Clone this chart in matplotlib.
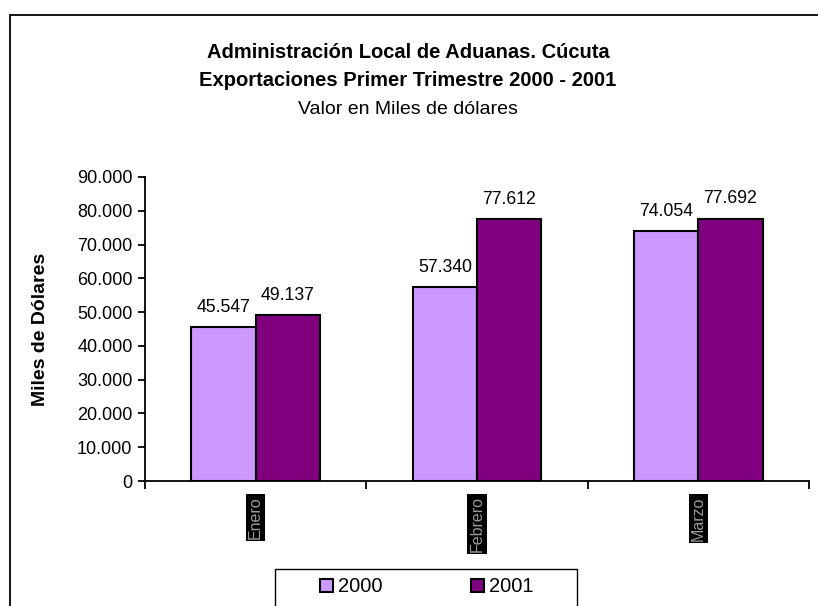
import matplotlib
matplotlib.use("Agg")
import matplotlib.pyplot as plt
from matplotlib.patches import Rectangle
import numpy as np

# values in miles de dolares
meses = ["Enero", "Febrero", "Marzo"]
anios = ["2000", "2001"]
valores_2000 = [45547, 57340, 74054]
valores_2001 = [49137, 77612, 77692]
colores = ["#CC99FF", "#800080"]
y_ticks = [0, 10000, 20000, 30000, 40000, 50000, 60000, 70000, 80000, 90000]

plt.rcParams["font.family"] = ["Liberation Sans", "DejaVu Sans"]


def miles(v):
    return f"{v:,.0f}".replace(",", ".")


fig = plt.figure(figsize=(8.18, 6.06), dpi=100)

# chart area border (cropped on the right and bottom)
fig.patches.append(Rectangle((10 / 818, -0.05), 1.2, 1 - 15 / 606 + 0.05,
                             transform=fig.transFigure, fill=False,
                             edgecolor="black", linewidth=1.3))
# legend box, also cut by the bottom edge
fig.patches.append(Rectangle((275 / 818, -0.05), 302 / 818, 1 - 569 / 606 + 0.05,
                             transform=fig.transFigure, fill=False,
                             edgecolor="black", linewidth=1.0))

ax = fig.add_axes([145 / 818, 1 - 481 / 606, (809 - 145) / 818, (481 - 177) / 606])

x = np.arange(len(meses))
ancho = 0.29
b1 = ax.bar(x - ancho / 2, valores_2000, ancho, color=colores[0],
            edgecolor="black", linewidth=1.5, label=anios[0])
b2 = ax.bar(x + ancho / 2, valores_2001, ancho, color=colores[1],
            edgecolor="black", linewidth=1.5, label=anios[1])

for barras in (b1, b2):
    for b in barras:
        ax.annotate(miles(b.get_height()),
                    (b.get_x() + b.get_width() / 2, b.get_height()),
                    xytext=(0, 8), textcoords="offset points",
                    ha="center", va="bottom", fontsize=12.7)

ax.set_xlim(-0.5, len(meses) - 0.5)
ax.set_ylim(0, 90000)
ax.set_yticks(y_ticks)
ax.set_yticklabels([miles(v) for v in y_ticks], fontsize=13)
ax.tick_params(axis="y", direction="out", length=5, width=1.3, pad=4)

ax.set_xticks(x)
ax.set_xticklabels(meses, rotation=90, fontsize=11.5, color="#9a9a9a",
                   va="top", ha="center")
for t in ax.get_xticklabels():
    t.set_bbox(dict(facecolor="black", edgecolor="none", pad=1.5))
ax.tick_params(axis="x", which="major", length=0, pad=11)
ax.set_xticks(np.arange(len(meses) + 1) - 0.5, minor=True)
ax.tick_params(axis="x", which="minor", direction="out", length=6, width=1.3)

for s in ("top", "right"):
    ax.spines[s].set_visible(False)
ax.spines["left"].set_linewidth(1.3)
ax.spines["bottom"].set_linewidth(1.3)

ax.set_ylabel("Miles de Dólares", fontsize=14, fontweight="bold", labelpad=20)

fig.text(408 / 818, 1 - 52 / 606, "Administración Local de Aduanas. Cúcuta",
         ha="center", va="center", fontsize=14.5, fontweight="bold")
fig.text(408 / 818, 1 - 80 / 606, "Exportaciones Primer Trimestre 2000 - 2001",
         ha="center", va="center", fontsize=14.5, fontweight="bold")
fig.text(408 / 818, 1 - 109 / 606, "Valor en Miles de dólares",
         ha="center", va="center", fontsize=14)

leg = fig.legend(handles=[b1, b2], labels=anios, ncol=2,
                 loc="center left", bbox_to_anchor=(320 / 818, 1 - 587 / 606),
                 fontsize=14.5, frameon=False,
                 handlelength=0.65, handleheight=0.65, handletextpad=0.25,
                 columnspacing=4.4, borderpad=0, borderaxespad=0)

fig.savefig("out.png", dpi=100)
